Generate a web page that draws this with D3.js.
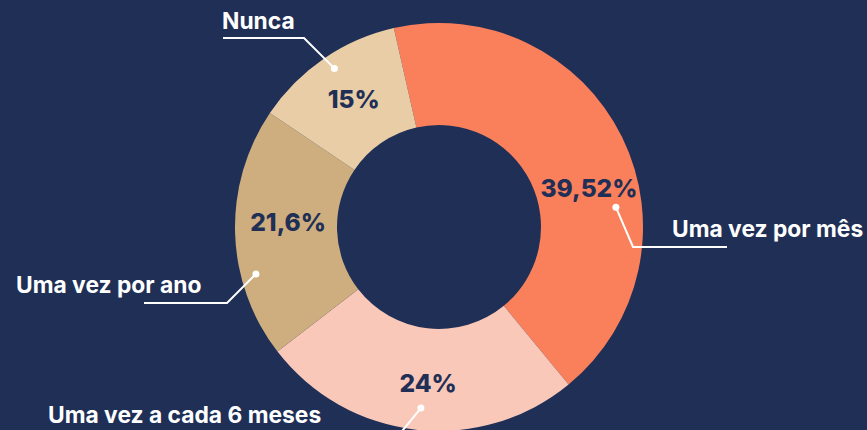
<!DOCTYPE html>
<html>
<head>
<meta charset="utf-8">
<script src="https://cdn.jsdelivr.net/npm/d3@7"></script>
<style>
  body { margin: 0; background: #1F2F56; }
  svg { display: block; }
</style>
</head>
<body>
<svg id="chart"></svg>
<script>
// categories, shown percentages, and angular shares as drawn in the picture
var categories = ["Uma vez por mês", "Uma vez a cada 6 meses", "Uma vez por ano", "Nunca"]
var pctLabels = ["39,52%", "24%", "21,6%", "15%"]
var shares = [42.6, 25.5, 19.9, 12.0]
var colors = ["#FA805C", "#F9C8B9", "#CEAE7E", "#E8CDA6"]

var dimensions = {
    width: 867,
    height: 430,
    cx: 439,
    cy: 227,
    outer: 204,
    inner: 102
}
var navy = "#1F2F56"
var deg = Math.PI / 180
var start = -12.8 * deg

// where each % label and leader dot sits (angle in degrees from top, radius)
var pctPos = [{a: 75.4, r: 155}, {a: 184, r: 157}, {a: 272, r: 151}, {a: 326.4, r: 154}]
var leaders = [
    {a: 83.6, r: 178, elbow: [633, 247], end: [727, 247], text: [672, 237]},
    {a: 185.7, r: 182, elbow: [398, 436], end: [398, 436], text: [48, 423]},
    {a: 255.6, r: 189, elbow: [227, 303], end: [144, 303], text: [16, 293]},
    {a: 326.6, r: 190, elbow: [304, 38], end: [223, 38], text: [222, 29]}
]

var svg = d3.select("#chart")
        .attr("width", dimensions.width)
        .attr("height", dimensions.height)

svg.append("rect")
    .attr("width", dimensions.width)
    .attr("height", dimensions.height)
    .attr("fill", navy)

var g = svg.append("g")
        .attr("transform", "translate(" + dimensions.cx + "," + dimensions.cy + ")")

var pie = d3.pie()
        .sort(null)
        .startAngle(start)
        .endAngle(start + 2 * Math.PI)

var arc = d3.arc()
        .innerRadius(dimensions.inner)
        .outerRadius(dimensions.outer)

var slices = g.selectAll("path")
        .data(pie(shares))
        .enter()
        .append("path")
        .attr("d", arc)
        .attr("fill", (d, i) => colors[i])

function polar(a, r) {
    return [r * Math.sin(a * deg), -r * Math.cos(a * deg)]
}

g.selectAll("text.pct")
    .data(pctLabels)
    .enter()
    .append("text")
    .attr("class", "pct")
    .attr("x", (d, i) => polar(pctPos[i].a, pctPos[i].r)[0])
    .attr("y", (d, i) => polar(pctPos[i].a, pctPos[i].r)[1])
    .attr("dy", "0.36em")
    .attr("text-anchor", "middle")
    .attr("fill", navy)
    .style("font-family", "Inter, 'Open Sans', sans-serif")
    .style("font-weight", 800)
    .style("font-size", "24.5px")
    .text(d => d)

// leader lines drawn in page coordinates
var lines = svg.append("g")
leaders.forEach(function(l, i) {
    var p = polar(l.a, l.r)
    var dot = [dimensions.cx + p[0], dimensions.cy + p[1]]
    lines.append("path")
        .attr("d", d3.line()([dot, l.elbow, l.end]))
        .attr("fill", "none")
        .attr("stroke", "white")
        .attr("stroke-width", 2)
    lines.append("circle")
        .attr("cx", dot[0])
        .attr("cy", dot[1])
        .attr("r", 3.5)
        .attr("fill", "white")
    lines.append("text")
        .attr("x", l.text[0])
        .attr("y", l.text[1])
        .attr("fill", "white")
        .style("font-family", "Inter, 'Open Sans', sans-serif")
        .style("font-weight", 700)
        .style("font-size", "22.8px")
        .text(categories[i])
})
</script>
</body>
</html>
